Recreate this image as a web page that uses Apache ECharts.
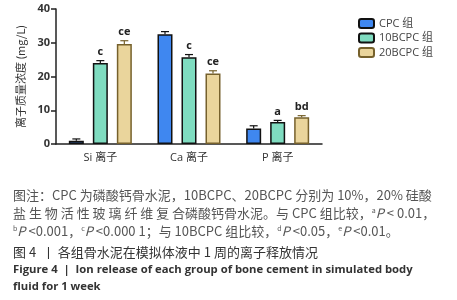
<!DOCTYPE html>
<html>
<head>
<meta charset="utf-8">
<script src="https://cdn.jsdelivr.net/npm/echarts@6/dist/echarts.min.js"></script>
<style>
  html, body { margin: 0; padding: 0; background: #fff; }
  #chart { width: 457px; height: 300px; }
</style>
</head>
<body>
<div id="chart"></div>
<script>
// data
var categories = ['Si 离子', 'Ca 离子', 'P 离子'];
var groups = ['CPC 组', '10BCPC 组', '20BCPC 组'];
var cpcValues = [1.0, 32.5, 4.6];
var bc10Values = [24.0, 25.7, 6.5];
var bc20Values = [29.6, 20.9, 7.9];
var cpcErr = [0.5, 0.8, 0.8];
var bc10Err = [0.7, 0.8, 0.5];
var bc20Err = [1.0, 0.8, 0.5];
var cpcMarks = ['', '', ''];
var bc10Marks = ['c', 'c', 'a'];
var bc20Marks = ['ce', 'ce', 'bd'];
var yTicks = [0, 10, 20, 30, 40];

var colors = ['#3f87f0', '#7fdcc0', '#ead59c'];
var borders = ['#111', '#111', '#76612c'];

var chart = echarts.init(document.getElementById('chart'));

var values = [cpcValues, bc10Values, bc20Values];
var errs = [cpcErr, bc10Err, bc20Err];
var marks = [cpcMarks, bc10Marks, bc20Marks];

var series = [];
groups.forEach(function (g, i) {
    series.push({
        name: g,
        type: 'bar',
        data: values[i],
        barWidth: 15,
        barGap: '60%',
        itemStyle: { color: colors[i], borderColor: borders[i], borderWidth: 1.5 },
        z: 2
    });
});
// error bars + significance letters
groups.forEach(function (g, i) {
    var offset = (i - 1) * 24;
    series.push({
        type: 'custom',
        data: values[i].map(function (v, k) { return [k, v, errs[i][k]]; }),
        z: 3,
        silent: true,
        renderItem: function (params, api) {
            var k = api.value(0);
            var top = api.coord([k, api.value(1) + api.value(2)]);
            var base = api.coord([k, api.value(1)]);
            var x = top[0] + offset;
            var children = [
                { type: 'line', shape: { x1: x, y1: base[1], x2: x, y2: top[1] }, style: { stroke: borders[i], lineWidth: 1.2 } },
                { type: 'line', shape: { x1: x - 4, y1: top[1], x2: x + 4, y2: top[1] }, style: { stroke: borders[i], lineWidth: 1.2 } }
            ];
            var m = marks[i][params.dataIndex];
            if (m) {
                children.push({ type: 'text', style: { text: m, x: x, y: top[1] - 3, align: 'center', verticalAlign: 'bottom', fill: '#222', font: 'bold 11px "Open Sans", sans-serif' } });
            }
            return { type: 'group', children: children };
        }
    });
});

var noteFont = '"Noto Sans CJK SC", sans-serif';
var noteRich = {
    n: { fontSize: 13, fill: '#555', fontFamily: noteFont },
    i: { fontSize: 13, fill: '#555', fontFamily: noteFont, fontStyle: 'italic' },
    s: { fontSize: 7, fill: '#555', fontFamily: noteFont, verticalAlign: 'top', padding: [0, 0, 6, 0] }
};
var line2 = '盐生物活性玻璃纤维复合'.split('').join(' ') + '磷酸钙骨水泥。';

chart.setOption({
    animation: false,
    grid: { left: 56, right: 135, top: 9, bottom: 156 },
    legend: {
        data: groups,
        orient: 'vertical',
        left: 353,
        top: 13,
        itemWidth: 15,
        itemHeight: 9,
        itemGap: 3.5,
        textStyle: { fontSize: 11, color: '#444', fontFamily: '"Open Sans", "Noto Sans CJK SC", sans-serif' }
    },
    xAxis: {
        type: 'category',
        data: categories,
        axisLine: { lineStyle: { color: '#222', width: 1.5 } },
        axisTick: { alignWithLabel: true, length: 5, lineStyle: { color: '#222', width: 1.5 } },
        axisLabel: { color: '#333', fontSize: 11, margin: 8, fontFamily: '"Open Sans", "Noto Sans CJK SC", sans-serif' }
    },
    yAxis: {
        type: 'value',
        min: 0,
        max: yTicks[yTicks.length - 1],
        interval: 10,
        name: '离子质量浓度 (mg/L)',
        nameLocation: 'middle',
        nameGap: 28,
        nameRotate: 90,
        nameTextStyle: { color: '#333', fontSize: 11, fontFamily: '"Noto Sans CJK SC", sans-serif' },
        splitLine: { show: false },
        axisLine: { show: true, lineStyle: { color: '#222', width: 1.5 } },
        axisTick: { show: true, length: 5, lineStyle: { color: '#222', width: 1.5 } },
        axisLabel: { color: '#333', fontSize: 11, fontWeight: 'bold', margin: 6, fontFamily: '"Open Sans", sans-serif' }
    },
    series: series,
    graphic: [
        { type: 'text', left: 13, top: 189, style: { text: '{n|图注：CPC 为磷酸钙骨水泥，10BCPC、20BCPC 分别为 10%，20% 硅酸}', rich: noteRich } },
        { type: 'text', left: 13, top: 207, style: { text: '{n|' + line2 + '与 CPC 组比较，}{s|a}{i|P}{n| < 0.01，}', rich: noteRich } },
        { type: 'text', left: 13, top: 225, style: { text: '{s|b}{i|P}{n| <0.001，}{s|c}{i|P}{n| <0.000 1；与 10BCPC 组比较，}{s|d}{i|P}{n| <0.05，}{s|e}{i|P}{n| <0.01。}', rich: noteRich } },
        { type: 'text', left: 13, top: 246, style: { text: '图 4  丨 各组骨水泥在模拟体液中 1 周的离子释放情况', fill: '#333', font: '13px "Noto Sans CJK SC", sans-serif' } },
        { type: 'text', left: 13, top: 264, style: { text: 'Figure 4  |  Ion release of each group of bone cement in simulated body', fill: '#333', font: 'bold 11.3px "Open Sans", sans-serif' } },
        { type: 'text', left: 13, top: 281, style: { text: 'fluid for 1 week', fill: '#333', font: 'bold 11.3px "Open Sans", sans-serif' } }
    ]
});
</script>
</body>
</html>
